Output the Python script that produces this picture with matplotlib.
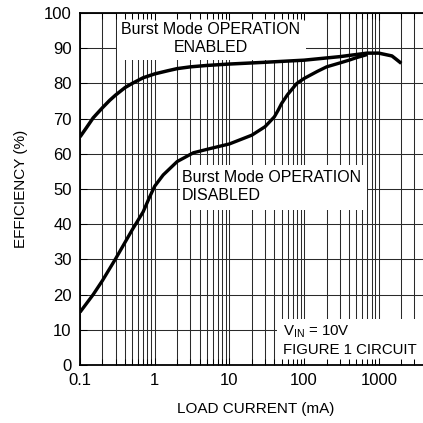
import matplotlib
matplotlib.use("Agg")
import matplotlib.pyplot as plt
from matplotlib.patches import Rectangle
import matplotlib.ticker as mticker

plt.rcParams['font.family'] = ['Liberation Sans Narrow', 'Liberation Sans', 'DejaVu Sans']

# ---- data ----
enabled_x = [0.1, 0.12, 0.15, 0.2, 0.25, 0.3, 0.4, 0.5, 0.7, 1, 1.5, 2, 3, 5, 10, 30, 100, 300, 700, 1000, 1500, 1700, 2000]
enabled_y = [64.8, 67.2, 70.2, 73.1, 75.2, 76.7, 78.8, 80.0, 81.6, 82.7, 83.6, 84.2, 84.7, 85.1, 85.5, 86.0, 86.6, 87.6, 88.6, 88.6, 87.8, 86.9, 85.7]

disabled_x = [0.1, 0.15, 0.2, 0.3, 0.5, 0.7, 0.85, 1.0, 1.3, 2, 3.3, 5.8, 10, 20, 30, 40, 45, 50, 60, 80, 100, 150, 200, 300, 400, 500, 700]
disabled_y = [15, 20.0, 24, 30.2, 38.4, 43.5, 47.6, 50.8, 54.0, 57.8, 60.3, 61.6, 62.8, 65.3, 67.7, 70.5, 72.4, 74.3, 76.8, 80.0, 81.4, 83.4, 84.7, 85.8, 86.6, 87.3, 88.2]

x_ticks = [0.1, 1, 10, 100, 1000]
x_tick_labels = ["0.1", "1", "10", "100", "1000"]
y_ticks = [0, 10, 20, 30, 40, 50, 60, 70, 80, 90, 100]

label_enabled = "Burst Mode OPERATION\nENABLED"
label_disabled = "Burst Mode OPERATION\nDISABLED"
label_vin = "V$_{\\mathregular{IN}}$ = 10V\nFIGURE 1 CIRCUIT"

# ---- figure ----
fig = plt.figure(figsize=(4.23, 4.23), dpi=100)
W = 423.0
ax = fig.add_axes([80 / W, 58 / W, 351 / W, 352 / W])
ax.set_xscale('log')
ax.set_xlim(0.1, 5000)
ax.set_ylim(0, 100)

# grid drawn manually underneath
minor_vals = [m * 10.0 ** d for d in range(-1, 4) for m in range(1, 10)]
for v in minor_vals:
    ax.axvline(v, color='#2a2a2a', lw=0.75, zorder=1)
for v in y_ticks:
    ax.axhline(v, color='#2a2a2a', lw=0.75, zorder=1)

# white boxes covering the grid
boxes = [((0.3126, 86.6), (105.4, 100)),
         ((2.18, 44.0), (690, 56.8)),
         ((43.2, 0), (10000, 13.1))]
for (x0, y0), (x1, y1) in boxes:
    ax.add_patch(Rectangle((x0, y0), x1 - x0, y1 - y0, facecolor='white',
                           edgecolor='none', zorder=1.5))

fs = 11.5
ax.text(5.66, 92.8, label_enabled, ha='center', va='center', fontsize=fs,
        linespacing=1.2, zorder=2)
ax.text(2.31, 50.7, label_disabled, ha='left', va='center', fontsize=fs,
        linespacing=1.2, zorder=2)
ax.text(52, 7.0, label_vin, ha='left', va='center', fontsize=10.8,
        linespacing=1.3, zorder=2)

ax.plot(enabled_x, enabled_y, color='black', lw=2.5, zorder=3,
        solid_capstyle='butt', solid_joinstyle='round')
ax.plot(disabled_x, disabled_y, color='black', lw=2.4, zorder=3,
        solid_capstyle='butt', solid_joinstyle='round')

ax.set_axisbelow(False)
ax.set_xticks(x_ticks)
ax.set_xticklabels(x_tick_labels)
ax.set_yticks(y_ticks)
ax.tick_params(axis='both', which='both', direction='in', top=True, right=False,
               labelsize=12, color='black')
ax.tick_params(axis='both', which='major', length=5, width=0.75, pad=6)
ax.tick_params(axis='x', which='minor', length=4, width=0.75)
ax.xaxis.set_minor_formatter(mticker.NullFormatter())

for s in ['left', 'bottom', 'top']:
    ax.spines[s].set_linewidth(1.3)
ax.spines['right'].set_visible(False)

ax.set_xlabel("LOAD CURRENT (mA)", fontsize=11)
ax.set_ylabel("EFFICIENCY (%)", fontsize=11)
ax.xaxis.set_label_coords((256 - 80) / 351, -(402 - 365) / 352)
ax.yaxis.set_label_coords(-(80 - 28) / 351, 0.5)

fig.savefig("out.png", dpi=100)
